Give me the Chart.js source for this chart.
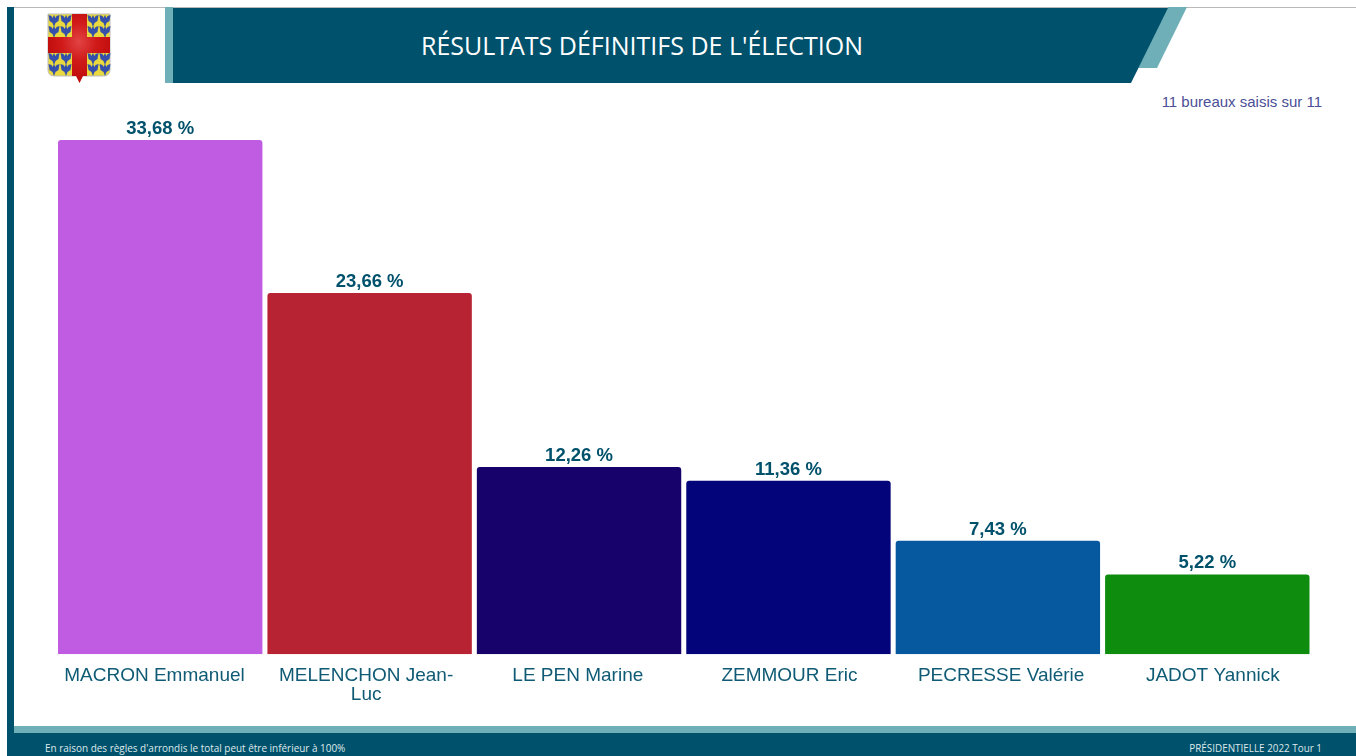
<!DOCTYPE html>
<html lang="fr">
<head>
<meta charset="utf-8">
<title>Résultats définitifs de l'élection</title>
<script src="https://cdn.jsdelivr.net/npm/chart.js@4"></script>
<style>
    html, body { margin: 0; padding: 0; background: #fff; overflow: hidden; }
    #page { position: relative; width: 1356px; height: 756px; }
    #decor { position: absolute; left: 0; top: 0; }
    #titre { position: absolute; left: 173px; top: 27px; width: 938px; text-align: center; color: #fff;
             font: 25px/36px "Open Sans", sans-serif; }
    #bureaux { position: absolute; right: 34px; top: 94px; color: #4a4f96; font: 15px/16px "Liberation Sans", sans-serif; }
    #note { position: absolute; left: 45px; top: 741px; color: #dfe9ec; font: 9.95px/14px "Open Sans", sans-serif; }
    #tour { position: absolute; right: 34px; top: 741px; color: #dfe9ec; font: 9.9px/14px "Open Sans", sans-serif; }
    #zone { position: absolute; left: 30px; top: 100px; width: 1310px; height: 615px; }
</style>
</head>
<body>
<div id="page">
    <svg id="decor" width="1356" height="756">
        <defs>
            <radialGradient id="croix" cx="50%" cy="40%" r="55%">
                <stop offset="0" stop-color="#e24444"/>
                <stop offset="0.5" stop-color="#d01a1a"/>
                <stop offset="1" stop-color="#c00c0c"/>
            </radialGradient>
            <path id="merlette" d="M0,0 L3,1 L4,3 L5.500,0 L7,3 L8,1 L11,0 L10,6 L7,8 L5.500,12 L4,8 L1,6 Z" fill="#3450aa"/>
            <g id="quartier">
                <use href="#merlette" x="0.500" y="1"/>
                <use href="#merlette" x="12.500" y="1"/>
                <use href="#merlette" x="0.500" y="12"/>
                <use href="#merlette" x="12.500" y="12"/>
            </g>
        </defs>
        <rect x="14" y="7" width="1342" height="1" fill="#b9b9b9"/>
        <rect x="7" y="7" width="7" height="749" fill="#00516b"/>
        <rect x="165" y="7" width="8" height="76" fill="#6fb0b8"/>
        <polygon points="1168,7 1187,7 1157,68 1138,68" fill="#6fb0b8"/>
        <polygon points="173,8 1168,8 1131,83 173,83" fill="#00516b"/>
        <rect x="14" y="726" width="1342" height="7" fill="#6fb0b8"/>
        <rect x="14" y="733" width="1342" height="23" fill="#00516b"/>
        <!-- blason -->
        <path d="M48,14 H110 V70 Q110,76 103,76 H55 Q48,76 48,70 Z" fill="#e9d83e" stroke="#bdbdbd"/>
        <use href="#quartier" x="48" y="14"/>
        <use href="#quartier" x="87" y="14"/>
        <use href="#quartier" x="48" y="52"/>
        <use href="#quartier" x="87" y="52"/>
        <path d="M72,14 H87 V37 H110 V53 H87 V76 H83 L79.500,83 L76,76 H72 V53 H48 V37 H72 Z" fill="url(#croix)"/>
    </svg>
    <div id="titre">RÉSULTATS DÉFINITIFS DE L'ÉLECTION</div>
    <div id="bureaux">11 bureaux saisis sur 11</div>
    <div id="note">En raison des règles d'arrondis le total peut être inférieur à 100%</div>
    <div id="tour">PRÉSIDENTIELLE 2022 Tour 1</div>
    <div id="zone"><canvas id="myChart" width="1310" height="615"></canvas></div>
</div>

<script>
// Données
const candidats = ["MACRON Emmanuel", ["MELENCHON Jean-", "Luc"], "LE PEN Marine", "ZEMMOUR Eric", "PECRESSE Valérie", "JADOT Yannick"];
const scores = [33.68, 23.66, 12.26, 11.36, 7.43, 5.22];
const couleurs = ["#c05ce2", "#b72333", "#16026a", "#03037a", "#07599f", "#0e8c0e"];

// Ecrit le pourcentage au dessus de chaque barre
const etiquettes = {
    id: 'etiquettes',
    afterDatasetsDraw(chart) {
        const ctx = chart.ctx;
        ctx.save();
        ctx.font = 'bold 18.5px "Liberation Sans", sans-serif';
        ctx.fillStyle = '#00516b';
        ctx.textAlign = 'center';
        ctx.textBaseline = 'bottom';
        chart.getDatasetMeta(0).data.forEach(function (barre, i) {
            ctx.fillText(scores[i].toFixed(2).replace('.', ',') + ' %', barre.x, barre.y - 2);
        });
        ctx.restore();
    }
};

// Sur l'original les noms sont un peu plus espacés que les barres : l'axe des noms est élargi
const axeNoms = {
    id: 'axeNoms',
    afterLayout(chart) {
        const axe = chart.scales.noms;
        axe.left = 18.65;
        axe.right = 1288.65;
        axe.configure();
    }
};

const config = {
    type: 'bar',
    data: {
        labels: candidats,
        datasets: [
            {
                data: scores,
                backgroundColor: couleurs,
                borderRadius: { topLeft: 3, topRight: 3 },
                borderSkipped: false,
                categoryPercentage: 1,
                barPercentage: 0.976
            }
        ]
    },
    options: {
        responsive: false,
        animation: false,
        layout: { padding: { left: 25.5, right: 28, top: 4.6, bottom: 6.8 } },
        plugins: { legend: { display: false }, tooltip: { enabled: false } },
        scales: {
            x: {
                display: false
            },
            noms: {
                type: 'category',
                axis: 'x',
                position: 'bottom',
                offset: true,
                grid: { display: false },
                border: { display: false },
                ticks: {
                    color: '#0f5a74',
                    font: { family: '"Liberation Sans", sans-serif', size: 19, lineHeight: 1 },
                    maxRotation: 0,
                    autoSkip: false,
                    padding: 4
                }
            },
            y: {
                display: false,
                min: 0,
                max: 36
            }
        }
    },
    plugins: [etiquettes, axeNoms]
};

const ctx = document.querySelector('#myChart').getContext('2d');
new Chart(ctx, config);
</script>
</body>
</html>
